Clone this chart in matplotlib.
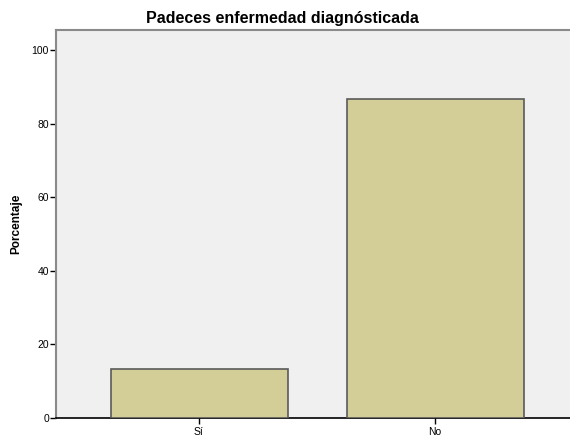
import matplotlib
matplotlib.use("Agg")
import matplotlib.pyplot as plt

categories = ["Sí", "No"]
values = [13.3, 86.7]
yticks = [0, 20, 40, 60, 80, 100]

plt.rcParams['font.family'] = ['Liberation Sans', 'DejaVu Sans']

fig = plt.figure(figsize=(5.70, 4.36), dpi=100)
ax = fig.add_axes([56/570, 18/436, 1 - 56/570, (418-30)/436])
ax.set_facecolor('#F0F0F0')

x = list(range(len(categories)))
ax.bar(x, values, width=0.75, color='#D3CE97', edgecolor='#5A5A5A', linewidth=1.2, zorder=3)

ax.set_xlim(-0.606, 1.572)
ax.set_ylim(0, 105.4)
ax.set_xticks(x)
ax.set_xticklabels(categories, fontsize=7.5)
ax.set_yticks(yticks)
ax.set_yticklabels([str(v) for v in yticks], fontsize=7.5)
ax.tick_params(axis='y', length=4, width=1, colors='black', pad=1)
ax.tick_params(axis='x', length=4, width=1, colors='black', pad=2.5)

ax.spines['right'].set_visible(False)
ax.spines['top'].set_color('#8A8A8A')
ax.spines['top'].set_linewidth(1.5)
ax.spines['left'].set_color('#8A8A8A')
ax.spines['left'].set_linewidth(1.5)
ax.spines['bottom'].set_color('black')
ax.spines['bottom'].set_linewidth(1.2)

ax.set_ylabel('Porcentaje', fontsize=8.5, fontweight='bold', labelpad=7)
fig.text(282/570, 1 - 18/436, 'Padeces enfermedad diagnósticada', ha='center', va='center',
         fontsize=11.5, fontweight='bold')

fig.savefig('out.png', dpi=100, facecolor='white')
